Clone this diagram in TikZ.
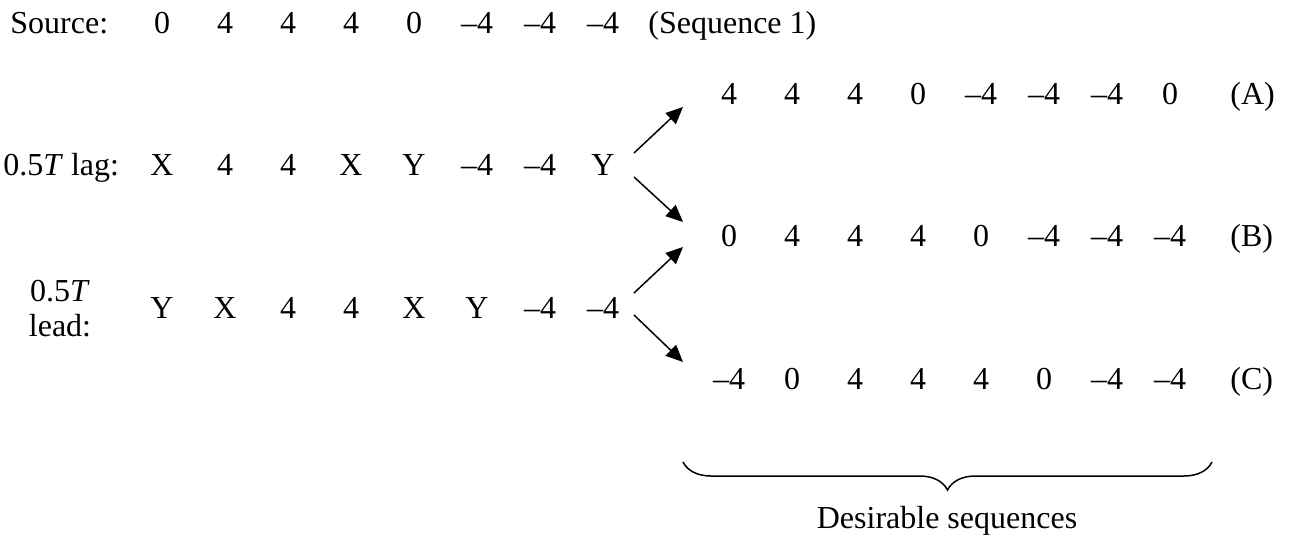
\documentclass[tikz,border=0pt]{standalone}
\usepackage{fontspec}
\setmainfont{Liberation Serif}
\usetikzlibrary{arrows.meta,decorations.pathreplacing}

\begin{document}
\begin{tikzpicture}[x=0.5pt, y=-0.5pt,
    every node/.style={font=\fontsize{16}{17.5}\selectfont, inner sep=0pt},
    val/.style={anchor=base},
    lbl/.style={anchor=base west},
    arrow/.style={-{Triangle[length=8.5pt, width=7.5pt]}, line width=0.75pt},
    bracket/.style={decorate, decoration={brace, mirror, amplitude=14pt}, line width=0.75pt}]
\useasboundingbox (0,0) rectangle (1293,539);

% Source sequence
\node[lbl] (srclbl) at (10,34) {Source:};
\foreach \v [count=\i] in {0,4,4,4,0,\textendash4,\textendash4,\textendash4}
  \node[val] (src\i) at ({99+63*\i},34) {\v};
\node[lbl] (srcname) at (648,34) {(Sequence 1)};

% Lag and lead
\node[lbl] (laglbl) at (3,176) {0.5\textit{T} lag:};
\foreach \v [count=\i] in {X,4,4,X,Y,\textendash4,\textendash4,Y}
  \node[val] (lag\i) at ({99+63*\i},176) {\v};
\node[align=center] (leadlbl) at (60,309) {0.5\textit{T}\\lead:};
\foreach \v [count=\i] in {Y,X,4,4,X,Y,\textendash4,\textendash4}
  \node[val] (lead\i) at ({99+63*\i},318) {\v};

% Desirable sequences
\foreach \v [count=\i] in {4,4,4,0,\textendash4,\textendash4,\textendash4,0}
  \node[val] (seqA\i) at ({666+63*\i},105) {\v};
\foreach \v [count=\i] in {0,4,4,4,0,\textendash4,\textendash4,\textendash4}
  \node[val] (seqB\i) at ({666+63*\i},247) {\v};
\foreach \v [count=\i] in {\textendash4,0,4,4,4,0,\textendash4,\textendash4}
  \node[val] (seqC\i) at ({666+63*\i},389) {\v};
\node[lbl] (nameA) at (1230,105) {(A)};
\node[lbl] (nameB) at (1230,247) {(B)};
\node[lbl] (nameC) at (1230,389) {(C)};

% Arrows
\draw[arrow] ([shift={(31,-23)}]lag8.base) -- ([shift={(-46,2)}]seqA1.base);
\draw[arrow] ([shift={(31,1)}]lag8.base) -- ([shift={(-46,-25)}]seqB1.base);
\draw[arrow] ([shift={(31,-25)}]lead8.base) -- ([shift={(-46,0)}]seqB1.base);
\draw[arrow] ([shift={(31,-3)}]lead8.base) -- ([shift={(-46,-27)}]seqC1.base);

% Brace
\node[val] (desir) at (947,528) {Desirable sequences};
\draw[bracket] ([shift={(-46,73)}]seqC1.base) -- ([shift={(42,73)}]seqC8.base);
\end{tikzpicture}
\end{document}
